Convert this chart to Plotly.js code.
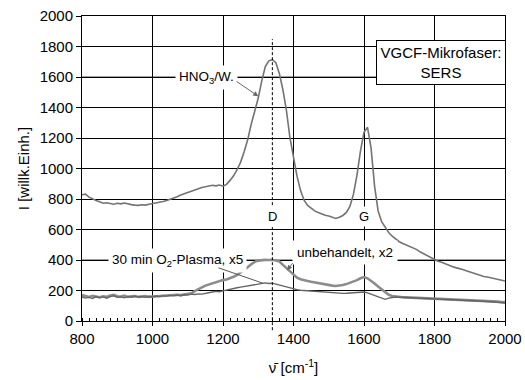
<!DOCTYPE html>
<html>
<head>
<meta charset="utf-8">
<script src="https://cdn.plot.ly/plotly-3.0.1.min.js"></script>
<style>html,body{margin:0;padding:0;background:#fff;}#chart{width:525px;height:380px;}</style>
</head>
<body>
<div id="chart"></div>
<script>
// wavenumber grid (cm^-1)
const wavenumber = [800,810,820,830,840,850,860,870,880,890,900,910,920,930,940,950,960,970,980,990,
1000,1010,1020,1030,1040,1050,1060,1070,1080,1090,1100,1110,1120,1130,1140,1150,1160,1170,1180,1190,
1200,1210,1220,1230,1240,1250,1260,1270,1280,1290,1300,1310,1320,1330,1340,1350,1360,1370,1380,1390,
1400,1410,1420,1430,1440,1450,1460,1470,1480,1490,1500,1510,1520,1530,1540,1550,1560,1570,1580,1590,
1600,1610,1620,1630,1640,1650,1660,1670,1680,1690,1700,1710,1720,1730,1740,1750,1760,1770,1780,1790,
1800,1810,1820,1830,1840,1850,1860,1870,1880,1890,1900,1910,1920,1930,1940,1950,1960,1970,1980,1990,2000];

// HNO3/W. treated fibre
const hno3 = [828,832,812,800,790,782,772,775,768,766,772,768,774,766,763,760,758,762,760,766,
770,772,778,784,790,797,806,815,826,834,845,853,862,870,876,880,884,890,886,892,
884,896,922,952,992,1042,1110,1188,1290,1370,1462,1575,1668,1706,1714,1694,1622,1515,1380,1200,
1062,950,855,792,758,740,722,712,702,694,688,680,672,680,692,712,752,830,955,1115,
1238,1270,1135,885,722,652,612,580,556,536,520,508,498,490,482,468,452,440,426,412,
400,392,386,375,366,358,350,345,338,330,322,314,306,300,292,288,282,278,272,266,262];

// unbehandelt, x2
const untreated = [170,162,158,165,160,156,162,158,168,172,162,160,166,158,162,164,158,160,163,158,
160,162,165,163,168,166,170,172,170,175,178,182,196,210,220,232,240,248,256,262,
268,272,280,290,302,318,336,352,372,388,396,400,401,400,402,396,390,368,346,322,
300,284,274,266,262,257,252,248,244,240,236,232,230,232,236,242,250,258,268,280,
288,280,264,246,226,206,186,172,164,160,158,156,155,154,153,152,150,152,150,148,
149,147,146,147,146,144,142,143,141,140,139,138,136,135,134,132,130,128,127,125,124];

// 30 min O2-Plasma, x5
const plasma = [158,150,155,148,160,152,158,150,160,165,155,158,152,160,156,162,158,160,155,162,
158,164,160,166,163,168,165,170,166,172,170,176,174,178,176,182,185,190,194,192,
198,204,210,214,218,222,226,230,234,240,244,248,250,246,248,242,236,228,220,214,
210,206,202,200,198,196,193,192,190,188,186,184,182,180,181,182,184,186,188,190,
190,184,176,170,162,150,142,150,156,157,156,155,153,154,152,150,151,149,148,147,
146,145,146,144,143,142,140,139,138,137,136,134,133,131,130,128,126,124,122,120,118];

const xRange = [800, 2000];
const yRange = [0, 2000];
const bandD = 1340;
const bandG = 1600;
const labelLevel = 400;
const hnoLevel = 1600;

const font = 'Liberation Sans, Arial, sans-serif';
const dPaper = (bandD - xRange[0]) / (xRange[1] - xRange[0]);

const traces = [
  {x: wavenumber, y: untreated, mode: 'lines', line: {color: '#8c8c8c', width: 2.6}},
  {x: wavenumber, y: plasma, mode: 'lines', line: {color: '#646464', width: 1.4}},
  {x: wavenumber, y: hno3, mode: 'lines', line: {color: '#737373', width: 1.6}}
];

const layout = {
  width: 525, height: 380,
  margin: {l: 82, r: 20, t: 16, b: 59, pad: 0},
  paper_bgcolor: '#fff', plot_bgcolor: '#fff',
  font: {family: font, size: 15, color: '#000'},
  showlegend: false,
  xaxis: {
    range: xRange, tick0: 800, dtick: 200,
    showline: true, linecolor: '#000', linewidth: 1, mirror: true,
    showgrid: true, gridcolor: '#000', gridwidth: 1, zeroline: false,
    ticks: 'outside', ticklen: 4, tickcolor: '#000', tickwidth: 1,
    minor: {dtick: 20, ticks: 'inside', ticklen: 3, tickcolor: '#000', tickwidth: 1, showgrid: false},
    tickfont: {size: 15},
    title: {text: 'ν̄ [cm<sup>-1</sup>]', font: {size: 15}, standoff: 16}
  },
  yaxis: {
    range: yRange, tick0: 0, dtick: 200,
    showline: true, linecolor: '#000', linewidth: 1, mirror: true,
    showgrid: true, gridcolor: '#000', gridwidth: 1, zeroline: false,
    ticks: 'outside', ticklen: 5, tickcolor: '#000', tickwidth: 1,
    tickfont: {size: 15},
    title: {text: 'I [willk.Einh.]', font: {size: 15}, standoff: 6}
  },
  shapes: [
    {type: 'line', layer: 'between', xref: 'paper', yref: 'y', x0: 0, x1: 1, y0: labelLevel, y1: labelLevel, line: {color: '#808080', width: 1.5}},
    {type: 'line', layer: 'between', xref: 'paper', yref: 'y', x0: 0, x1: 1, y0: hnoLevel, y1: hnoLevel, line: {color: '#808080', width: 1.5}},
    {type: 'line', layer: 'above', xref: 'paper', yref: 'paper', x0: dPaper, x1: dPaper, y0: -0.03, y1: 0.924, line: {color: '#000', width: 1, dash: '3px,2px'}}
  ],
  annotations: [
    {text: 'HNO<sub>3</sub>/W.', x: 1153, y: hnoLevel, showarrow: false, bgcolor: '#fff', borderpad: 3, font: {size: 13.5}},
    {text: ' ', x: 1300, y: 1474, ax: 1234, ay: 1578, axref: 'x', ayref: 'y', showarrow: true, arrowhead: 2, arrowsize: 1, arrowwidth: 1, arrowcolor: '#666', font: {size: 1}},
    {text: '30 min O<sub>2</sub>-Plasma, x5', x: 1070, y: labelLevel, showarrow: false, bgcolor: '#fff', borderpad: 3, font: {size: 13.5}},
    {text: ' ', x: 1314, y: 247, ax: 1183, ay: 352, axref: 'x', ayref: 'y', showarrow: true, arrowhead: 0, arrowwidth: 1, arrowcolor: '#555', font: {size: 1}},
    {text: 'unbehandelt, x2', x: 1546, y: 450, showarrow: false, bgcolor: '#fff', borderpad: 4, font: {size: 13.5}},
    {text: ' ', x: 1382, y: 333, ax: 1402, ay: 392, axref: 'x', ayref: 'y', showarrow: true, arrowhead: 2, arrowsize: 1, arrowwidth: 1, arrowcolor: '#666', font: {size: 1}},
    {text: 'D', x: bandD, y: 686, showarrow: false, bgcolor: '#fff', borderpad: 2, font: {size: 13}},
    {text: 'G', x: bandG, y: 686, showarrow: false, bgcolor: '#fff', borderpad: 2, font: {size: 13}},
    {text: 'VGCF-Mikrofaser:<br>SERS', xref: 'paper', yref: 'paper', x: 1.002, y: 0.92, xanchor: 'right', yanchor: 'top',
     showarrow: false, bgcolor: '#fff', bordercolor: '#000', borderwidth: 1, borderpad: 1, width: 126, height: 41, align: 'center', font: {size: 15}}
  ]
};

Plotly.newPlot('chart', traces, layout, {staticPlot: true, displayModeBar: false});
</script>
</body>
</html>
